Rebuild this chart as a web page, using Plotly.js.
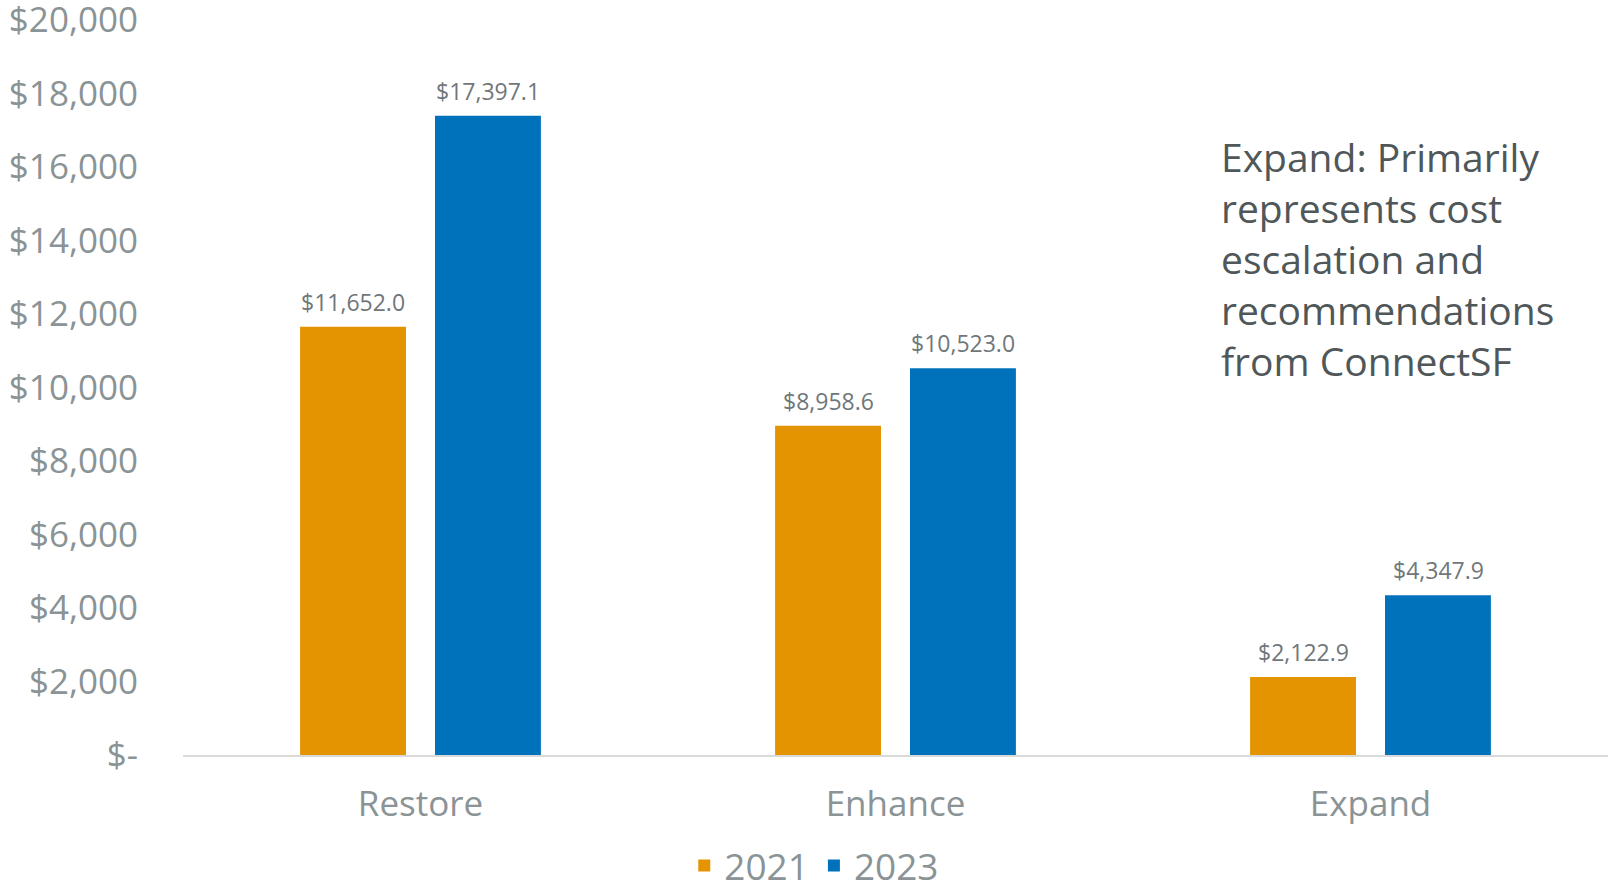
<!DOCTYPE html>
<html>
<head>
<meta charset="utf-8">
<script src="https://cdn.plot.ly/plotly-3.0.1.min.js"></script>
<style>html,body{margin:0;padding:0;background:#fff;}#chart{width:1608px;height:893px;}</style>
</head>
<body>
<div id="chart"></div>
<script>
const categories = ["Restore", "Enhance", "Expand"];
const values2021 = [11652.0, 8958.6, 2122.9];
const values2023 = [17397.1, 10523.0, 4347.9];
const labels2021 = ["$11,652.0", "$8,958.6", "$2,122.9"];
const labels2023 = ["$17,397.1", "$10,523.0", "$4,347.9"];
const yTickVals = [0, 2000, 4000, 6000, 8000, 10000, 12000, 14000, 16000, 18000, 20000];
const yTickText = ["$-", "$2,000", "$4,000", "$6,000", "$8,000", "$10,000", "$12,000", "$14,000", "$16,000", "$18,000", "$20,000"];
const noteLines = ["Expand: Primarily", "represents cost", "escalation and", "recommendations", "from ConnectSF"];

const FONT = "Open Sans, Noto Sans, sans-serif";
const GRAY = "#8a9395";
const LABEL_GRAY = "#6f777a";

const TOP = 20, BOTTOM_PX = 755, PLOT_H = BOTTOM_PX - TOP;

const traces = [
  {type: "bar", name: "2021", x: categories, y: values2021,
   marker: {color: "#e39400"}, hoverinfo: "skip"},
  {type: "bar", name: "2023", x: categories, y: values2023,
   marker: {color: "#0072bb"}, hoverinfo: "skip"}
];

const BAR_OFFSET = 67.5; // px: half a group slot
const valueLabels = [];
categories.forEach((c, i) => {
  valueLabels.push({x: c, y: values2021[i], xref: "x", yref: "y", text: labels2021[i],
    showarrow: false, xanchor: "center", yanchor: "bottom", xshift: -BAR_OFFSET, yshift: 7,
    font: {size: 23, color: LABEL_GRAY, family: FONT}});
  valueLabels.push({x: c, y: values2023[i], xref: "x", yref: "y", text: labels2023[i],
    showarrow: false, xanchor: "center", yanchor: "bottom", xshift: BAR_OFFSET, yshift: 7,
    font: {size: 23, color: LABEL_GRAY, family: FONT}});
});

const noteAnnotations = noteLines.map((t, i) => ({
  text: t, xref: "paper", yref: "paper", x: (1219 - 183) / 1425, xanchor: "left",
  y: 1 - (157 + i * 50.8 - TOP) / PLOT_H, yanchor: "middle",
  showarrow: false, align: "left",
  font: {size: 39, color: "#4f5759", family: FONT}
}));

const layout = {
  width: 1608, height: 893,
  margin: {l: 183, r: 0, t: TOP, b: 893 - BOTTOM_PX, autoexpand: false},
  paper_bgcolor: "#ffffff", plot_bgcolor: "#ffffff",
  barmode: "group", bargap: 0.432, bargroupgap: 0.215,
  font: {family: FONT, color: GRAY},
  showlegend: true,
  legend: {orientation: "h", x: 0.443, xanchor: "center", y: -(866 - BOTTOM_PX) / PLOT_H, yanchor: "middle",
           font: {size: 37, color: GRAY, family: FONT}, traceorder: "normal"},
  xaxis: {showline: true, linecolor: "#d9d9d9", linewidth: 2, showgrid: false, automargin: false,
          ticks: "", tickfont: {size: 35, color: GRAY, family: FONT}, ticklabelstandoff: 17,
          fixedrange: true},
  yaxis: {range: [0, 20000], tickvals: yTickVals, ticktext: yTickText, showgrid: false,
          zeroline: false, showline: false, ticks: "", automargin: false, ticklabeloverflow: "allow",
          tickfont: {size: 35, color: GRAY, family: FONT}, ticklabelstandoff: 44,
          fixedrange: true},
  annotations: valueLabels.concat(noteAnnotations)
};

Plotly.newPlot("chart", traces, layout, {displayModeBar: false, staticPlot: true});
</script>
</body>
</html>
